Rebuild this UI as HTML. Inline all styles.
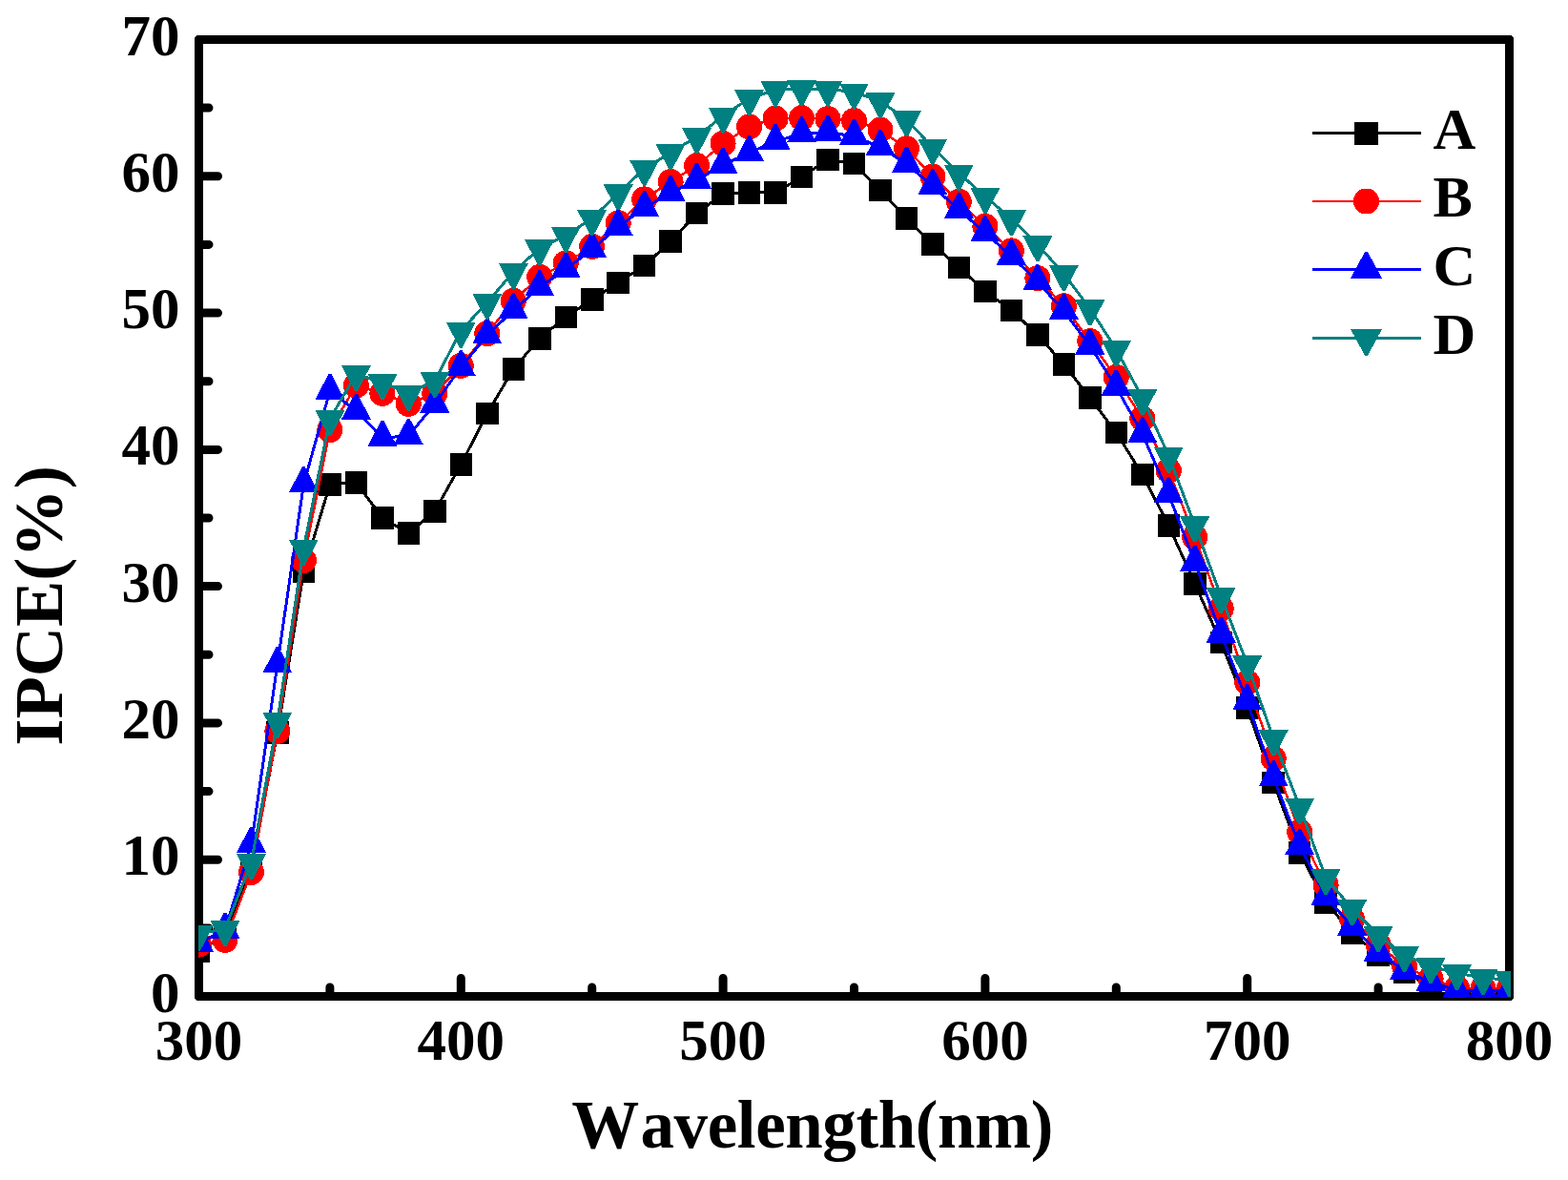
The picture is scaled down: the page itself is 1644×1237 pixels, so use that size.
<!DOCTYPE html>
<html><head><meta charset="utf-8"><title>IPCE</title>
<style>
html,body{margin:0;padding:0;background:#fff;}
body{width:1644px;height:1237px;overflow:hidden;}
svg{display:block;}
text{font-family:"Liberation Serif","Times New Roman",serif;font-weight:bold;fill:#000;}
.tl text{font-size:61px;}
.at{font-size:71px;}
.lg{font-size:62px;}
</style></head>
<body>
<svg width="1644" height="1237" viewBox="0 0 1644 1237">
<defs><clipPath id="pc"><rect x="208" y="41" width="1376" height="1004.7"/></clipPath></defs>
<path fill-rule="evenodd" d="M206.4 37H1584.6L1587 39.4V1046.6L1584.6 1049H206.4L204 1046.6V39.4ZM213 46V1040H1578V46Z"/>
<path d="M208.5 972.9H219M208.5 901.2H228.5M208.5 829.6H219M208.5 757.9H228.5M208.5 686.3H219M208.5 614.6H228.5M208.5 543H219M208.5 471.4H228.5M208.5 399.7H219M208.5 328.1H228.5M208.5 256.4H219M208.5 184.8H228.5M208.5 113.1H219M345.9 1044.5V1035M483.3 1044.5V1025.5M620.7 1044.5V1035M758.1 1044.5V1025.5M895.5 1044.5V1035M1032.9 1044.5V1025.5M1170.3 1044.5V1035M1307.7 1044.5V1025.5M1445.1 1044.5V1035" stroke="#000" stroke-width="9" stroke-linecap="round"/>
<g clip-path="url(#pc)" shape-rendering="crispEdges">
<polyline points="208.5,997.2 236,978.6 263.5,908.4 290.9,768 318.4,598.9 345.9,507.9 373.4,505.7 400.9,543 428.3,558.8 455.8,535.8 483.3,487.1 510.8,433.5 538.3,386.8 565.7,354.7 593.2,332.4 620.7,314 648.2,296.3 675.7,278.4 703.1,253.1 730.6,223.6 758.1,203.1 785.6,201.8 813.1,202 840.5,185.4 868,167.3 895.5,171.6 923,199.3 950.5,228.9 977.9,256.1 1005.4,280.4 1032.9,305.4 1060.4,325.2 1087.9,351.1 1115.3,381.8 1142.8,417.2 1170.3,453.4 1197.8,497.6 1225.3,550.9 1252.7,611.8 1280.2,673.7 1307.7,742.2 1335.2,820.3 1362.7,894 1390.1,945.8 1417.6,977.9 1445.1,1000.9 1472.6,1019 1500.1,1034.5 1527.5,1040.2 1555,1040.9 1582.5,1040.9" fill="none" stroke="#000000" stroke-width="3" stroke-linejoin="round"/>
<rect x="196.8" y="985.5" width="23.5" height="23.5" fill="#000000"/><rect x="224.2" y="966.8" width="23.5" height="23.5" fill="#000000"/><rect x="251.7" y="896.6" width="23.5" height="23.5" fill="#000000"/><rect x="279.2" y="756.2" width="23.5" height="23.5" fill="#000000"/><rect x="306.7" y="587.1" width="23.5" height="23.5" fill="#000000"/><rect x="334.1" y="496.1" width="23.5" height="23.5" fill="#000000"/><rect x="361.6" y="494" width="23.5" height="23.5" fill="#000000"/><rect x="389.1" y="531.2" width="23.5" height="23.5" fill="#000000"/><rect x="416.6" y="547" width="23.5" height="23.5" fill="#000000"/><rect x="444.1" y="524.1" width="23.5" height="23.5" fill="#000000"/><rect x="471.6" y="475.4" width="23.5" height="23.5" fill="#000000"/><rect x="499" y="421.8" width="23.5" height="23.5" fill="#000000"/><rect x="526.5" y="375.1" width="23.5" height="23.5" fill="#000000"/><rect x="554" y="343" width="23.5" height="23.5" fill="#000000"/><rect x="581.5" y="320.6" width="23.5" height="23.5" fill="#000000"/><rect x="609" y="302.3" width="23.5" height="23.5" fill="#000000"/><rect x="636.4" y="284.5" width="23.5" height="23.5" fill="#000000"/><rect x="663.9" y="266.6" width="23.5" height="23.5" fill="#000000"/><rect x="691.4" y="241.4" width="23.5" height="23.5" fill="#000000"/><rect x="718.9" y="211.9" width="23.5" height="23.5" fill="#000000"/><rect x="746.4" y="191.4" width="23.5" height="23.5" fill="#000000"/><rect x="773.8" y="190.1" width="23.5" height="23.5" fill="#000000"/><rect x="801.3" y="190.2" width="23.5" height="23.5" fill="#000000"/><rect x="828.8" y="173.6" width="23.5" height="23.5" fill="#000000"/><rect x="856.3" y="155.6" width="23.5" height="23.5" fill="#000000"/><rect x="883.8" y="159.9" width="23.5" height="23.5" fill="#000000"/><rect x="911.2" y="187.5" width="23.5" height="23.5" fill="#000000"/><rect x="938.7" y="217.2" width="23.5" height="23.5" fill="#000000"/><rect x="966.2" y="244.4" width="23.5" height="23.5" fill="#000000"/><rect x="993.7" y="268.6" width="23.5" height="23.5" fill="#000000"/><rect x="1021.2" y="293.7" width="23.5" height="23.5" fill="#000000"/><rect x="1048.6" y="313.5" width="23.5" height="23.5" fill="#000000"/><rect x="1076.1" y="339.4" width="23.5" height="23.5" fill="#000000"/><rect x="1103.6" y="370.1" width="23.5" height="23.5" fill="#000000"/><rect x="1131.1" y="405.4" width="23.5" height="23.5" fill="#000000"/><rect x="1158.5" y="441.7" width="23.5" height="23.5" fill="#000000"/><rect x="1186" y="485.8" width="23.5" height="23.5" fill="#000000"/><rect x="1213.5" y="539.1" width="23.5" height="23.5" fill="#000000"/><rect x="1241" y="600" width="23.5" height="23.5" fill="#000000"/><rect x="1268.5" y="661.9" width="23.5" height="23.5" fill="#000000"/><rect x="1296" y="730.4" width="23.5" height="23.5" fill="#000000"/><rect x="1323.4" y="808.5" width="23.5" height="23.5" fill="#000000"/><rect x="1350.9" y="882.3" width="23.5" height="23.5" fill="#000000"/><rect x="1378.4" y="934" width="23.5" height="23.5" fill="#000000"/><rect x="1405.9" y="966.1" width="23.5" height="23.5" fill="#000000"/><rect x="1433.3" y="989.2" width="23.5" height="23.5" fill="#000000"/><rect x="1460.8" y="1007.2" width="23.5" height="23.5" fill="#000000"/><rect x="1488.3" y="1022.7" width="23.5" height="23.5" fill="#000000"/><rect x="1515.8" y="1028.5" width="23.5" height="23.5" fill="#000000"/><rect x="1543.3" y="1029.2" width="23.5" height="23.5" fill="#000000"/><rect x="1570.8" y="1029.2" width="23.5" height="23.5" fill="#000000"/>

<polyline points="208.5,990.1 236,985.3 263.5,914.4 290.9,766.5 318.4,587.4 345.9,450.7 373.4,404 400.9,412.3 428.3,423.4 455.8,412.6 483.3,383.4 510.8,349.6 538.3,315.3 565.7,290.4 593.2,275.8 620.7,258.4 648.2,233.8 675.7,208.9 703.1,190.5 730.6,173.6 758.1,150.4 785.6,132.8 813.1,124.2 840.5,123.6 868,124.6 895.5,126.5 923,136.1 950.5,155.8 977.9,185.1 1005.4,211.2 1032.9,237.2 1060.4,262.9 1087.9,291.7 1115.3,320.8 1142.8,357.7 1170.3,395.4 1197.8,438.8 1225.3,493.3 1252.7,563.2 1280.2,638 1307.7,715.5 1335.2,795.2 1362.7,872.4 1390.1,927.7 1417.6,963.4 1445.1,990.1 1472.6,1013 1500.1,1025.9 1527.5,1035.9 1555,1035.9 1582.5,1035.9" fill="none" stroke="#ff0000" stroke-width="2.5" stroke-linejoin="round"/>
<circle cx="208.5" cy="990.1" r="13.5" fill="#ff0000"/><circle cx="236" cy="985.3" r="13.5" fill="#ff0000"/><circle cx="263.5" cy="914.4" r="13.5" fill="#ff0000"/><circle cx="290.9" cy="766.5" r="13.5" fill="#ff0000"/><circle cx="318.4" cy="587.4" r="13.5" fill="#ff0000"/><circle cx="345.9" cy="450.7" r="13.5" fill="#ff0000"/><circle cx="373.4" cy="404" r="13.5" fill="#ff0000"/><circle cx="400.9" cy="412.3" r="13.5" fill="#ff0000"/><circle cx="428.3" cy="423.4" r="13.5" fill="#ff0000"/><circle cx="455.8" cy="412.6" r="13.5" fill="#ff0000"/><circle cx="483.3" cy="383.4" r="13.5" fill="#ff0000"/><circle cx="510.8" cy="349.6" r="13.5" fill="#ff0000"/><circle cx="538.3" cy="315.3" r="13.5" fill="#ff0000"/><circle cx="565.7" cy="290.4" r="13.5" fill="#ff0000"/><circle cx="593.2" cy="275.8" r="13.5" fill="#ff0000"/><circle cx="620.7" cy="258.4" r="13.5" fill="#ff0000"/><circle cx="648.2" cy="233.8" r="13.5" fill="#ff0000"/><circle cx="675.7" cy="208.9" r="13.5" fill="#ff0000"/><circle cx="703.1" cy="190.5" r="13.5" fill="#ff0000"/><circle cx="730.6" cy="173.6" r="13.5" fill="#ff0000"/><circle cx="758.1" cy="150.4" r="13.5" fill="#ff0000"/><circle cx="785.6" cy="132.8" r="13.5" fill="#ff0000"/><circle cx="813.1" cy="124.2" r="13.5" fill="#ff0000"/><circle cx="840.5" cy="123.6" r="13.5" fill="#ff0000"/><circle cx="868" cy="124.6" r="13.5" fill="#ff0000"/><circle cx="895.5" cy="126.5" r="13.5" fill="#ff0000"/><circle cx="923" cy="136.1" r="13.5" fill="#ff0000"/><circle cx="950.5" cy="155.8" r="13.5" fill="#ff0000"/><circle cx="977.9" cy="185.1" r="13.5" fill="#ff0000"/><circle cx="1005.4" cy="211.2" r="13.5" fill="#ff0000"/><circle cx="1032.9" cy="237.2" r="13.5" fill="#ff0000"/><circle cx="1060.4" cy="262.9" r="13.5" fill="#ff0000"/><circle cx="1087.9" cy="291.7" r="13.5" fill="#ff0000"/><circle cx="1115.3" cy="320.8" r="13.5" fill="#ff0000"/><circle cx="1142.8" cy="357.7" r="13.5" fill="#ff0000"/><circle cx="1170.3" cy="395.4" r="13.5" fill="#ff0000"/><circle cx="1197.8" cy="438.8" r="13.5" fill="#ff0000"/><circle cx="1225.3" cy="493.3" r="13.5" fill="#ff0000"/><circle cx="1252.7" cy="563.2" r="13.5" fill="#ff0000"/><circle cx="1280.2" cy="638" r="13.5" fill="#ff0000"/><circle cx="1307.7" cy="715.5" r="13.5" fill="#ff0000"/><circle cx="1335.2" cy="795.2" r="13.5" fill="#ff0000"/><circle cx="1362.7" cy="872.4" r="13.5" fill="#ff0000"/><circle cx="1390.1" cy="927.7" r="13.5" fill="#ff0000"/><circle cx="1417.6" cy="963.4" r="13.5" fill="#ff0000"/><circle cx="1445.1" cy="990.1" r="13.5" fill="#ff0000"/><circle cx="1472.6" cy="1013" r="13.5" fill="#ff0000"/><circle cx="1500.1" cy="1025.9" r="13.5" fill="#ff0000"/><circle cx="1527.5" cy="1035.9" r="13.5" fill="#ff0000"/><circle cx="1555" cy="1035.9" r="13.5" fill="#ff0000"/><circle cx="1582.5" cy="1035.9" r="13.5" fill="#ff0000"/>

<polyline points="208.5,988.6 236,974.9 263.5,884.9 290.9,696.3 318.4,507.2 345.9,410 373.4,430.7 400.9,459 428.3,457 455.8,423.5 483.3,385 510.8,351.4 538.3,325.2 565.7,301.3 593.2,282.4 620.7,261.4 648.2,237.8 675.7,218 703.1,202.1 730.6,188.8 758.1,172.7 785.6,160.3 813.1,148 840.5,140.4 868,138.6 895.5,142.9 923,154.3 950.5,171.9 977.9,195.2 1005.4,219.9 1032.9,244.2 1060.4,268.5 1087.9,295.4 1115.3,325.9 1142.8,362.6 1170.3,405.7 1197.8,455 1225.3,518.2 1252.7,589.7 1280.2,664.5 1307.7,735.4 1335.2,815.1 1362.7,887 1390.1,939.8 1417.6,971.6 1445.1,998.5 1472.6,1017.7 1500.1,1029.5 1527.5,1038.1 1555,1038.1 1582.5,1038.1" fill="none" stroke="#0000ff" stroke-width="3" stroke-linejoin="round"/>
<polygon points="207.1,970.6 209.9,970.6 224,997.6 193,997.6" fill="#0000ff"/><polygon points="234.6,956.9 237.4,956.9 251.5,983.9 220.5,983.9" fill="#0000ff"/><polygon points="262.1,866.9 264.9,866.9 279,893.9 248,893.9" fill="#0000ff"/><polygon points="289.5,678.3 292.3,678.3 306.4,705.3 275.4,705.3" fill="#0000ff"/><polygon points="317,489.2 319.8,489.2 333.9,516.2 302.9,516.2" fill="#0000ff"/><polygon points="344.5,392 347.3,392 361.4,419 330.4,419" fill="#0000ff"/><polygon points="372,412.7 374.8,412.7 388.9,439.7 357.9,439.7" fill="#0000ff"/><polygon points="399.5,441 402.3,441 416.4,468 385.4,468" fill="#0000ff"/><polygon points="426.9,439 429.7,439 443.8,466 412.8,466" fill="#0000ff"/><polygon points="454.4,405.5 457.2,405.5 471.3,432.5 440.3,432.5" fill="#0000ff"/><polygon points="481.9,367 484.7,367 498.8,394 467.8,394" fill="#0000ff"/><polygon points="509.4,333.4 512.2,333.4 526.3,360.4 495.3,360.4" fill="#0000ff"/><polygon points="536.9,307.2 539.7,307.2 553.8,334.2 522.8,334.2" fill="#0000ff"/><polygon points="564.3,283.3 567.1,283.3 581.2,310.3 550.2,310.3" fill="#0000ff"/><polygon points="591.8,264.4 594.6,264.4 608.7,291.4 577.7,291.4" fill="#0000ff"/><polygon points="619.3,243.4 622.1,243.4 636.2,270.4 605.2,270.4" fill="#0000ff"/><polygon points="646.8,219.8 649.6,219.8 663.7,246.8 632.7,246.8" fill="#0000ff"/><polygon points="674.3,200 677.1,200 691.2,227 660.2,227" fill="#0000ff"/><polygon points="701.7,184.1 704.5,184.1 718.6,211.1 687.6,211.1" fill="#0000ff"/><polygon points="729.2,170.8 732,170.8 746.1,197.8 715.1,197.8" fill="#0000ff"/><polygon points="756.7,154.7 759.5,154.7 773.6,181.7 742.6,181.7" fill="#0000ff"/><polygon points="784.2,142.3 787,142.3 801.1,169.3 770.1,169.3" fill="#0000ff"/><polygon points="811.7,130 814.5,130 828.6,157 797.6,157" fill="#0000ff"/><polygon points="839.1,122.4 841.9,122.4 856,149.4 825,149.4" fill="#0000ff"/><polygon points="866.6,120.6 869.4,120.6 883.5,147.6 852.5,147.6" fill="#0000ff"/><polygon points="894.1,124.9 896.9,124.9 911,151.9 880,151.9" fill="#0000ff"/><polygon points="921.6,136.3 924.4,136.3 938.5,163.3 907.5,163.3" fill="#0000ff"/><polygon points="949.1,153.9 951.9,153.9 966,180.9 935,180.9" fill="#0000ff"/><polygon points="976.5,177.2 979.3,177.2 993.4,204.2 962.4,204.2" fill="#0000ff"/><polygon points="1004,201.9 1006.8,201.9 1020.9,228.9 989.9,228.9" fill="#0000ff"/><polygon points="1031.5,226.2 1034.3,226.2 1048.4,253.2 1017.4,253.2" fill="#0000ff"/><polygon points="1059,250.5 1061.8,250.5 1075.9,277.5 1044.9,277.5" fill="#0000ff"/><polygon points="1086.5,277.4 1089.3,277.4 1103.4,304.4 1072.4,304.4" fill="#0000ff"/><polygon points="1113.9,307.9 1116.7,307.9 1130.8,334.9 1099.8,334.9" fill="#0000ff"/><polygon points="1141.4,344.6 1144.2,344.6 1158.3,371.6 1127.3,371.6" fill="#0000ff"/><polygon points="1168.9,387.7 1171.7,387.7 1185.8,414.7 1154.8,414.7" fill="#0000ff"/><polygon points="1196.4,437 1199.2,437 1213.3,464 1182.3,464" fill="#0000ff"/><polygon points="1223.9,500.2 1226.7,500.2 1240.8,527.2 1209.8,527.2" fill="#0000ff"/><polygon points="1251.3,571.7 1254.1,571.7 1268.2,598.7 1237.2,598.7" fill="#0000ff"/><polygon points="1278.8,646.5 1281.6,646.5 1295.7,673.5 1264.7,673.5" fill="#0000ff"/><polygon points="1306.3,717.4 1309.1,717.4 1323.2,744.4 1292.2,744.4" fill="#0000ff"/><polygon points="1333.8,797.1 1336.6,797.1 1350.7,824.1 1319.7,824.1" fill="#0000ff"/><polygon points="1361.3,869 1364.1,869 1378.2,896 1347.2,896" fill="#0000ff"/><polygon points="1388.7,921.8 1391.5,921.8 1405.6,948.8 1374.6,948.8" fill="#0000ff"/><polygon points="1416.2,953.6 1419,953.6 1433.1,980.6 1402.1,980.6" fill="#0000ff"/><polygon points="1443.7,980.5 1446.5,980.5 1460.6,1007.5 1429.6,1007.5" fill="#0000ff"/><polygon points="1471.2,999.7 1474,999.7 1488.1,1026.7 1457.1,1026.7" fill="#0000ff"/><polygon points="1498.7,1011.5 1501.5,1011.5 1515.6,1038.5 1484.6,1038.5" fill="#0000ff"/><polygon points="1526.1,1020.1 1528.9,1020.1 1543,1047.1 1512,1047.1" fill="#0000ff"/><polygon points="1553.6,1020.1 1556.4,1020.1 1570.5,1047.1 1539.5,1047.1" fill="#0000ff"/><polygon points="1581.1,1020.1 1583.9,1020.1 1598,1047.1 1567,1047.1" fill="#0000ff"/>

<polyline points="208.5,978.6 236,973.9 263.5,904.1 290.9,755.6 318.4,574.5 345.9,439.1 373.4,392.1 400.9,401.1 428.3,412.6 455.8,399.1 483.3,346.7 510.8,317 538.3,285.1 565.7,260.4 593.2,246.5 620.7,229.2 648.2,202.3 675.7,177 703.1,160.1 730.6,143.2 758.1,121.5 785.6,103.3 813.1,94.2 840.5,93.1 868,93.5 895.5,96.5 923,106 950.5,125.3 977.9,154.6 1005.4,181.5 1032.9,206 1060.4,229.3 1087.9,256.3 1115.3,287.1 1142.8,323.3 1170.3,366.3 1197.8,417.2 1225.3,477.8 1252.7,550.3 1280.2,625.1 1307.7,696.3 1335.2,774.3 1362.7,846 1390.1,920.3 1417.6,952.4 1445.1,980.2 1472.6,1001.1 1500.1,1013.1 1527.5,1020 1555,1025.2 1582.5,1027" fill="none" stroke="#008080" stroke-width="3" stroke-linejoin="round"/>
<polygon points="207.1,996.6 209.9,996.6 224,969.6 193,969.6" fill="#008080"/><polygon points="234.6,991.9 237.4,991.9 251.5,964.9 220.5,964.9" fill="#008080"/><polygon points="262.1,922.1 264.9,922.1 279,895.1 248,895.1" fill="#008080"/><polygon points="289.5,773.6 292.3,773.6 306.4,746.6 275.4,746.6" fill="#008080"/><polygon points="317,592.5 319.8,592.5 333.9,565.5 302.9,565.5" fill="#008080"/><polygon points="344.5,457.1 347.3,457.1 361.4,430.1 330.4,430.1" fill="#008080"/><polygon points="372,410.1 374.8,410.1 388.9,383.1 357.9,383.1" fill="#008080"/><polygon points="399.5,419.1 402.3,419.1 416.4,392.1 385.4,392.1" fill="#008080"/><polygon points="426.9,430.6 429.7,430.6 443.8,403.6 412.8,403.6" fill="#008080"/><polygon points="454.4,417.1 457.2,417.1 471.3,390.1 440.3,390.1" fill="#008080"/><polygon points="481.9,364.7 484.7,364.7 498.8,337.7 467.8,337.7" fill="#008080"/><polygon points="509.4,335 512.2,335 526.3,308 495.3,308" fill="#008080"/><polygon points="536.9,303.1 539.7,303.1 553.8,276.1 522.8,276.1" fill="#008080"/><polygon points="564.3,278.4 567.1,278.4 581.2,251.4 550.2,251.4" fill="#008080"/><polygon points="591.8,264.5 594.6,264.5 608.7,237.5 577.7,237.5" fill="#008080"/><polygon points="619.3,247.2 622.1,247.2 636.2,220.2 605.2,220.2" fill="#008080"/><polygon points="646.8,220.3 649.6,220.3 663.7,193.3 632.7,193.3" fill="#008080"/><polygon points="674.3,195 677.1,195 691.2,168 660.2,168" fill="#008080"/><polygon points="701.7,178.1 704.5,178.1 718.6,151.1 687.6,151.1" fill="#008080"/><polygon points="729.2,161.2 732,161.2 746.1,134.2 715.1,134.2" fill="#008080"/><polygon points="756.7,139.5 759.5,139.5 773.6,112.5 742.6,112.5" fill="#008080"/><polygon points="784.2,121.3 787,121.3 801.1,94.3 770.1,94.3" fill="#008080"/><polygon points="811.7,112.2 814.5,112.2 828.6,85.2 797.6,85.2" fill="#008080"/><polygon points="839.1,111.1 841.9,111.1 856,84.1 825,84.1" fill="#008080"/><polygon points="866.6,111.5 869.4,111.5 883.5,84.5 852.5,84.5" fill="#008080"/><polygon points="894.1,114.5 896.9,114.5 911,87.5 880,87.5" fill="#008080"/><polygon points="921.6,124 924.4,124 938.5,97 907.5,97" fill="#008080"/><polygon points="949.1,143.3 951.9,143.3 966,116.3 935,116.3" fill="#008080"/><polygon points="976.5,172.6 979.3,172.6 993.4,145.6 962.4,145.6" fill="#008080"/><polygon points="1004,199.5 1006.8,199.5 1020.9,172.5 989.9,172.5" fill="#008080"/><polygon points="1031.5,224 1034.3,224 1048.4,197 1017.4,197" fill="#008080"/><polygon points="1059,247.3 1061.8,247.3 1075.9,220.3 1044.9,220.3" fill="#008080"/><polygon points="1086.5,274.3 1089.3,274.3 1103.4,247.3 1072.4,247.3" fill="#008080"/><polygon points="1113.9,305.1 1116.7,305.1 1130.8,278.1 1099.8,278.1" fill="#008080"/><polygon points="1141.4,341.3 1144.2,341.3 1158.3,314.3 1127.3,314.3" fill="#008080"/><polygon points="1168.9,384.3 1171.7,384.3 1185.8,357.3 1154.8,357.3" fill="#008080"/><polygon points="1196.4,435.2 1199.2,435.2 1213.3,408.2 1182.3,408.2" fill="#008080"/><polygon points="1223.9,495.8 1226.7,495.8 1240.8,468.8 1209.8,468.8" fill="#008080"/><polygon points="1251.3,568.3 1254.1,568.3 1268.2,541.3 1237.2,541.3" fill="#008080"/><polygon points="1278.8,643.1 1281.6,643.1 1295.7,616.1 1264.7,616.1" fill="#008080"/><polygon points="1306.3,714.3 1309.1,714.3 1323.2,687.3 1292.2,687.3" fill="#008080"/><polygon points="1333.8,792.3 1336.6,792.3 1350.7,765.3 1319.7,765.3" fill="#008080"/><polygon points="1361.3,864 1364.1,864 1378.2,837 1347.2,837" fill="#008080"/><polygon points="1388.7,938.3 1391.5,938.3 1405.6,911.3 1374.6,911.3" fill="#008080"/><polygon points="1416.2,970.4 1419,970.4 1433.1,943.4 1402.1,943.4" fill="#008080"/><polygon points="1443.7,998.2 1446.5,998.2 1460.6,971.2 1429.6,971.2" fill="#008080"/><polygon points="1471.2,1019.1 1474,1019.1 1488.1,992.1 1457.1,992.1" fill="#008080"/><polygon points="1498.7,1031.1 1501.5,1031.1 1515.6,1004.1 1484.6,1004.1" fill="#008080"/><polygon points="1526.1,1038 1528.9,1038 1543,1011 1512,1011" fill="#008080"/><polygon points="1553.6,1043.2 1556.4,1043.2 1570.5,1016.2 1539.5,1016.2" fill="#008080"/><polygon points="1581.1,1045 1583.9,1045 1598,1018 1567,1018" fill="#008080"/>

</g>
<g class="tl"><text x="188.5" y="1060.5" text-anchor="end">0</text><text x="188.5" y="917.2" text-anchor="end">10</text><text x="188.5" y="773.9" text-anchor="end">20</text><text x="188.5" y="630.6" text-anchor="end">30</text><text x="188.5" y="487.4" text-anchor="end">40</text><text x="188.5" y="344.1" text-anchor="end">50</text><text x="188.5" y="200.8" text-anchor="end">60</text><text x="188.5" y="57.5" text-anchor="end">70</text><text x="208.5" y="1111" text-anchor="middle">300</text><text x="483.3" y="1111" text-anchor="middle">400</text><text x="758.1" y="1111" text-anchor="middle">500</text><text x="1032.9" y="1111" text-anchor="middle">600</text><text x="1307.7" y="1111" text-anchor="middle">700</text><text x="1582.5" y="1111" text-anchor="middle">800</text></g>
<text class="at" y="1203"><tspan x="599.3">W</tspan><tspan x="671.5" letter-spacing="-0.4">avelength(nm)</tspan></text>
<text class="at" style="font-size:72.4px" transform="translate(65.3 781.7) rotate(-90)">IPCE(%)</text>
<g shape-rendering="crispEdges"><line x1="1376" y1="139.5" x2="1490" y2="139.5" stroke="#000000" stroke-width="3"/><rect x="1420" y="127.5" width="25" height="24" fill="#000000"/><text class="lg" x="1502.5" y="155.9">A</text><line x1="1376" y1="211" x2="1490" y2="211" stroke="#ff0000" stroke-width="2"/><circle cx="1432.5" cy="211" r="13.5" fill="#ff0000"/><text class="lg" x="1502.5" y="227.4">B</text><line x1="1376" y1="282.6" x2="1490" y2="282.6" stroke="#0000ff" stroke-width="3"/><polygon points="1431.1,263.9 1433.9,263.9 1449,291.9 1416,291.9" fill="#0000ff"/><text class="lg" x="1502.5" y="299">C</text><line x1="1376" y1="354.3" x2="1490" y2="354.3" stroke="#008080" stroke-width="3"/><polygon points="1431.1,373 1433.9,373 1449,345 1416,345" fill="#008080"/><text class="lg" x="1502.5" y="370.7">D</text></g>
</svg>
</body></html>
